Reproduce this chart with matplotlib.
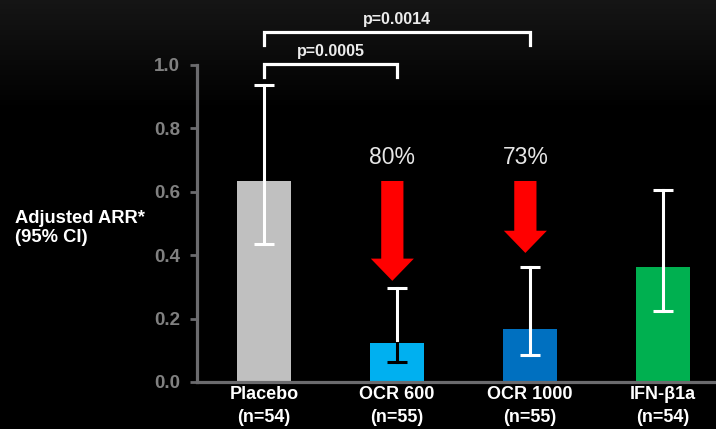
import matplotlib
matplotlib.use('Agg')
import matplotlib.pyplot as plt
import numpy as np

plt.rcParams['font.family'] = ['Liberation Sans', 'DejaVu Sans']

# data
groups = ['Placebo', 'OCR 600', 'OCR 1000', 'IFN-\u03b21a']
n_labels = ['(n=54)', '(n=55)', '(n=55)', '(n=54)']
arr = [0.634, 0.123, 0.167, 0.363]
ci_low = [0.435, 0.063, 0.085, 0.224]
ci_high = [0.937, 0.297, 0.363, 0.606]
colors = ['#c0c0c0', '#00b0f0', '#0070c0', '#00b050']
low_colors = ['white', 'black', 'white', 'white']

reduction = ['80%', '73%']
arrow_idx = [1, 2]
arrow_tip = [0.319, 0.407]

pvals = ['p=0.0005', 'p=0.0014']
p_pairs = [(0, 1), (0, 2)]
p_level = [1.003, 1.104]

fig = plt.figure(figsize=(7.16, 4.29), dpi=100, facecolor='black')

# dark gradient background at top
bg = fig.add_axes([0, 0, 1, 1], zorder=-1)
rows = np.arange(429)
grad = np.clip(0.085 * (1 - rows / 110.0), 0, 1)[:, None] * np.ones((1, 10))
bg.imshow(grad, cmap='gray', vmin=0, vmax=1, aspect='auto', extent=[0, 1, 0, 1])
bg.axis('off')

ax = fig.add_axes([0.275, 0.1096, 0.725, 0.739])
ax.set_facecolor('none')

x = np.arange(len(groups))
ax.bar(x, arr, width=0.405, color=colors, zorder=2)

# error bars: upper part white, lower part colored
for i in range(len(groups)):
    ax.plot([x[i], x[i]], [arr[i], ci_high[i]], color='white', lw=2.2, zorder=3)
    ax.plot([x[i]], [ci_high[i]], marker='_', ms=14.5, mew=2.2, color='white', zorder=3)
    ax.plot([x[i], x[i]], [ci_low[i], arr[i]], color=low_colors[i], lw=2.2, zorder=3)
    ax.plot([x[i]], [ci_low[i]], marker='_', ms=14.5, mew=2.2, color=low_colors[i], zorder=3)

# red reduction arrows
for k, i in enumerate(arrow_idx):
    xa = x[i] - 0.035
    ax.annotate('', xy=(xa, arrow_tip[k]), xytext=(xa, arr[0]),
                arrowprops=dict(arrowstyle='simple,head_width=31,head_length=16,tail_width=16',
                                mutation_scale=1, color='red', lw=0,
                                shrinkA=0, shrinkB=0), zorder=4)
    ax.text(xa, 0.707, reduction[k], ha='center', va='center',
            fontsize=16.5, color='#e6e6e6')

# significance brackets
for k in range(len(pvals)):
    a, b = p_pairs[k]
    lv = p_level[k]
    ax.plot([x[a], x[a], x[b], x[b]], [lv - 0.04, lv, lv, lv - 0.04],
            color='white', lw=2.3, clip_on=False, solid_joinstyle='miter')
    ax.text((x[a] + x[b]) / 2, lv + 0.038, pvals[k], ha='center', va='center',
            fontsize=11.5, fontweight='bold', color='#ececec', clip_on=False)

ax.set_xlim(-0.504, 3.398)
ax.set_ylim(0, 1.0)
ax.set_yticks([0, 0.2, 0.4, 0.6, 0.8, 1.0])
ax.set_yticklabels(['0.0', '0.2', '0.4', '0.6', '0.8', '1.0'])
ax.set_xticks(x)
ax.set_xticklabels([g + '\n' + n for g, n in zip(groups, n_labels)],
                   fontsize=13, fontweight='bold', color='white', linespacing=1.45)
ax.tick_params(axis='x', length=0, pad=3)
ax.tick_params(axis='y', length=5, width=2, color='#6b6b6e', labelcolor='#808080',
               labelsize=13.5, pad=7)
for lbl in ax.get_yticklabels():
    lbl.set_fontweight('bold')

for s in ['top', 'right']:
    ax.spines[s].set_visible(False)
for s in ['left', 'bottom']:
    ax.spines[s].set_color('#6b6b6e')
    ax.spines[s].set_linewidth(2.3)

fig.text(15 / 716, 1 - 228 / 429, 'Adjusted ARR*\n(95% CI)', ha='left', va='center',
         fontsize=13.2, fontweight='bold', color='white', linespacing=1.2)

fig.savefig('out.png', dpi=100, facecolor='black')
